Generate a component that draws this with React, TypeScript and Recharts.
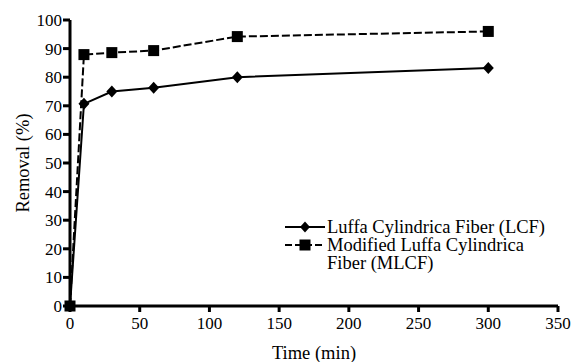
import React from "react";
import { LineChart, Line, XAxis, YAxis, Label } from "recharts";

const times = [0, 10, 30, 60, 120, 300];
const lcfRemoval = [0, 70.7, 75, 76.3, 80, 83.2];
const mlcfRemoval = [0, 87.9, 88.6, 89.3, 94.2, 96];
const xTicks = [0, 50, 100, 150, 200, 250, 300, 350];
const yTicks = [0, 10, 20, 30, 40, 50, 60, 70, 80, 90, 100];

const seriesNames = {
   lcf: "Luffa Cylindrica Fiber (LCF)",
   mlcf: "Modified Luffa Cylindrica Fiber (MLCF)",
};

const FONT = "Liberation Serif";

const chartData = times.map(function (t, i) {
   return { time: t, lcf: lcfRemoval[i], mlcf: mlcfRemoval[i] };
});

const titleStyle = {
   fill: "#000",
   fontFamily: FONT,
   fontSize: 18.5,
};

const tickTextStyle = {
   fill: "#000",
   fontFamily: FONT,
   fontSize: 17,
   fontWeight: 400,
};

// draw the tick text ourselves so the serif font sticks
const XTick = function (props: any) {
   const { x, y, payload } = props;
   return (
      <g>
         <text
            x={x}
            y={y}
            dy="0.75em"
            textAnchor="middle"
            fontFamily={FONT}
            style={tickTextStyle}
         >
            {String(payload.value)}
         </text>
      </g>
   );
};

const YTick = function (props: any) {
   const { x, y, payload } = props;
   return (
      <g>
         <text
            x={x}
            y={y}
            dy="0.35em"
            textAnchor="end"
            fontFamily={FONT}
            style={tickTextStyle}
         >
            {String(payload.value)}
         </text>
      </g>
   );
};

const Diamond = function (props: any) {
   const { cx, cy } = props;
   if (cx == null || cy == null) return null;
   return (
      <polygon
         points={`${cx},${cy - 6} ${cx + 5.5},${cy} ${cx},${cy + 6} ${cx - 5.5},${cy}`}
         fill="#000"
      />
   );
};

const Square = function (props: any) {
   const { cx, cy } = props;
   if (cx == null || cy == null) return null;
   const h = 5.5;
   return <rect x={cx - h} y={cy - h} width={h * 2} height={h * 2} fill="#000" />;
};

// legend drawn as an overlay so it doesn't eat plot space
const LegendBox = function () {
   const row = { display: "flex", alignItems: "flex-start", lineHeight: "18px" };
   return (
      <div
         style={{
            position: "absolute",
            left: 284,
            top: 218,
            fontFamily: FONT,
            fontSize: 18.5,
            color: "#000",
         }}
      >
         <div style={row}>
            <svg width={43} height={18} style={{ flexShrink: 0 }}>
               <line x1={1} y1={9} x2={41} y2={9} stroke="#000" strokeWidth={2} />
               <polygon points="21,3.5 26,9 21,14.5 16,9" fill="#000" />
            </svg>
            <span>{seriesNames.lcf}</span>
         </div>
         <div style={row}>
            <svg width={43} height={18} style={{ flexShrink: 0 }}>
               <line
                  x1={1}
                  y1={9}
                  x2={41}
                  y2={9}
                  stroke="#000"
                  strokeWidth={2}
                  strokeDasharray="7 3"
               />
               <rect x={15.5} y={3.5} width={11} height={11} fill="#000" />
            </svg>
            <span style={{ width: 210 }}>{seriesNames.mlcf}</span>
         </div>
      </div>
   );
};

export default function App() {
   return (
      <div
         style={{
            position: "absolute",
            left: 0,
            top: 0,
            width: 571,
            height: 362,
            background: "#fff",
            fontFamily: FONT,
         }}
      >
         <LineChart
            width={571}
            height={362}
            data={chartData}
            margin={{ top: 20, right: 13, left: 0, bottom: 0 }}
         >
            <XAxis
               dataKey="time"
               type="number"
               domain={[0, 350]}
               ticks={xTicks}
               interval={0}
               stroke="#000"
               strokeWidth={3}
               tickSize={6}
               tickMargin={4}
               height={56}
               tick={<XTick />}
            >
               <Label
                  value="Time (min)"
                  position="insideBottom"
                  offset={3}
                  style={titleStyle}
               />
            </XAxis>
            <YAxis
               type="number"
               domain={[0, 100]}
               ticks={yTicks}
               interval={0}
               width={70}
               stroke="#000"
               strokeWidth={3}
               tickSize={7}
               tickMargin={1}
               tick={<YTick />}
            >
               <Label
                  value="Removal (%)"
                  angle={-90}
                  position="insideLeft"
                  offset={22}
                  style={{ ...titleStyle, textAnchor: "middle" }}
               />
            </YAxis>
            <Line
               dataKey="lcf"
               name={seriesNames.lcf}
               stroke="#000"
               strokeWidth={2}
               dot={<Diamond />}
               activeDot={false}
               isAnimationActive={false}
            />
            <Line
               dataKey="mlcf"
               name={seriesNames.mlcf}
               stroke="#000"
               strokeWidth={2}
               strokeDasharray="8 3"
               dot={<Square />}
               activeDot={false}
               isAnimationActive={false}
            />
         </LineChart>
         <LegendBox />
      </div>
   );
}
